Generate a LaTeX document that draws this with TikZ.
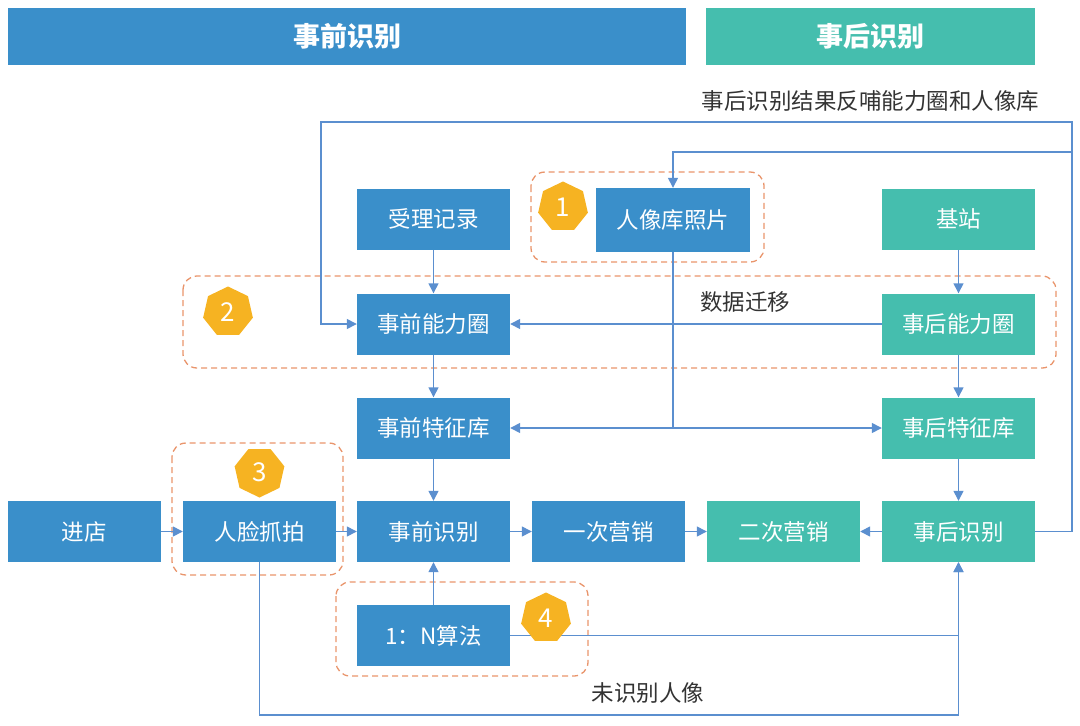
\documentclass[tikz,border=0pt]{standalone}
\usepackage{fontspec}
\setmainfont{Noto Sans CJK SC}
\usetikzlibrary{shapes.geometric,arrows.meta}
\definecolor{bblue}{HTML}{3A8FCA}
\definecolor{tteal}{HTML}{45BEAE}
\definecolor{lblue}{HTML}{5B8FCF}
\definecolor{dorange}{HTML}{E9956C}
\definecolor{badgec}{HTML}{F6B322}
\definecolor{tgray}{HTML}{333333}
\begin{document}
\begin{tikzpicture}[x=1pt,y=-1pt,
 box/.style={fill=bblue,text=white,minimum width=153pt,minimum height=61pt,inner sep=0pt,font=\fontsize{22.5}{26}\selectfont},
 tbox/.style={box,fill=tteal},
 conn/.style={draw=lblue,line width=1.4pt,-{Triangle[width=10pt,length=10pt]}},
 plainline/.style={draw=lblue,line width=1.4pt},
 grp/.style={draw=dorange,line width=1.3pt,dash pattern=on 6pt off 4pt,rounded corners=14pt},
 badge/.style={regular polygon,regular polygon sides=7,fill=badgec,text=white,minimum size=51pt,inner sep=0pt,font=\fontsize{26}{30}\selectfont},
 lbl/.style={text=tgray,font=\fontsize{22.5}{26}\selectfont},
 hdr/.style={text=white,minimum height=57pt,inner sep=0pt,font=\fontsize{27}{32}\selectfont\bfseries}]
\useasboundingbox (0,0) rectangle (1080,726);

% headers
\node[hdr,fill=bblue,minimum width=678pt] (h1) at (347,36.5) {事前识别};
\node[hdr,fill=tteal,minimum width=329pt] (h2) at (870.5,36.5) {事后识别};
\node[lbl,anchor=east] (fb) at (1043,101) {事后识别结果反哺能力圈和人像库};

% dashed groups
\draw[grp] (531,172) rectangle (764,262);
\draw[grp] (183,276) rectangle (1056,368);
\draw[grp] (172,443) rectangle (343,575);
\draw[grp] (336,582) rectangle (588,676);

% boxes
\node[box] (slj) at (433.5,219) {受理记录};
\node[box,minimum width=154pt,minimum height=64pt] (rx) at (673,220) {人像库照片};
\node[tbox] (jz) at (958.5,219) {基站};
\node[box] (sqn) at (433.5,324) {事前能力圈};
\node[tbox] (hnl) at (958.5,324) {事后能力圈};
\node[box] (sqt) at (433.5,428) {事前特征库};
\node[tbox] (hht) at (958.5,428) {事后特征库};
\node[box] (jd) at (84,531.5) {进店};
\node[box] (rl) at (259.5,531.5) {人脸抓拍};
\node[box] (sqs) at (433.5,531.5) {事前识别};
\node[box] (yc) at (608.5,531.5) {一次营销};
\node[tbox] (ec) at (783.5,531.5) {二次营销};
\node[tbox] (hsb) at (958.5,531.5) {事后识别};
\node[box] (alg) at (433.5,635.5) {1：N算法};

% feedback loop
\coordinate (fbR) at (1072,122);
\coordinate (fbL) at (321,122);
\coordinate (fbM) at (1072,152);
\draw[conn] (hsb.east) -| (fbR) -- (fbL) |- (sqn.west);
\draw[conn] (fbM) -| (rx.north);

% data flows
\draw[conn] (slj) -- (sqn);
\draw[conn] (jz) -- (hnl);
\draw[conn] (hnl) -- (sqn);
\node[lbl] (sjqy) at (745,302) {数据迁移};
\coordinate (mj) at (rx.south |- sqt.east);
\draw[plainline] (rx.south) -- (mj);
\draw[conn] (mj) -- (sqt.east);
\draw[conn] (mj) -- (hht.west);
\draw[conn] (sqn) -- (sqt);
\draw[conn] (hnl) -- (hht);
\draw[conn] (sqt) -- (sqs);
\draw[conn] (hht) -- (hsb);
\draw[conn] (jd) -- (rl);
\draw[conn] (rl) -- (sqs);
\draw[conn] (sqs) -- (yc);
\draw[conn] (yc) -- (ec);
\draw[conn] (hsb) -- (ec);
\draw[conn] (alg) -- (sqs);
\draw[conn] (alg.east) -| (hsb.south);
\coordinate (bot) at (0,715);
\draw[conn] (rl.south) |- (bot -| hsb.south) -- (hsb.south);
\node[lbl] (wsb) at (648,693) {未识别人像};

% badges
\node[badge] (b1) at (563,207) {1};
\node[badge] (b2) at (228,312) {2};
\node[badge,shape border rotate=180] (b3) at (259.5,472) {3};
\node[badge] (b4) at (546,618) {4};
\end{tikzpicture}
\end{document}
